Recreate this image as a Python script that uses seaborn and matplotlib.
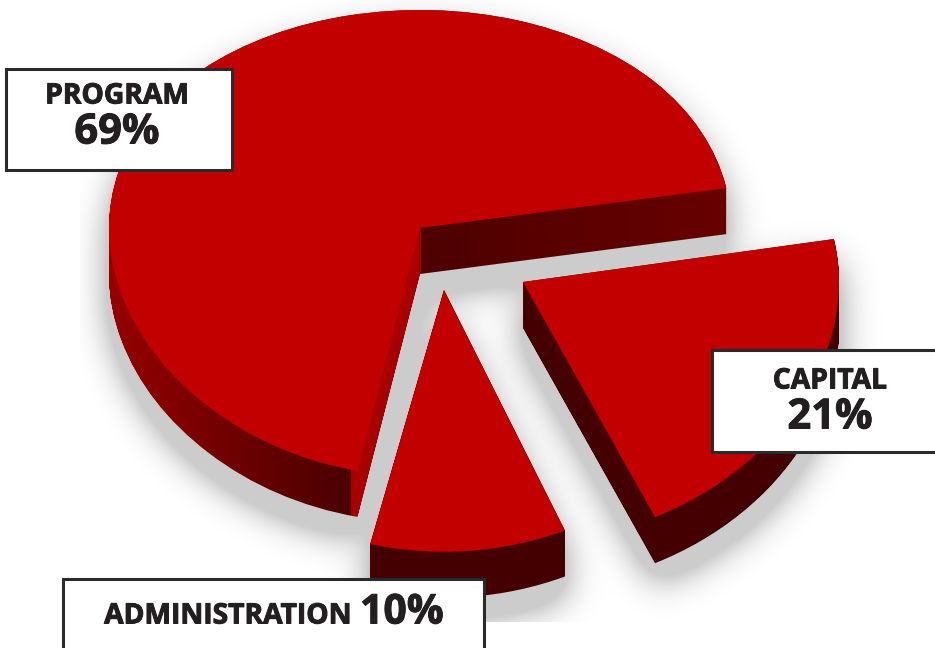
import numpy as np
import matplotlib
matplotlib.use("Agg")
import matplotlib.pyplot as plt
import matplotlib.patheffects as pe
import seaborn as sns
from matplotlib.patches import PathPatch, Rectangle
from matplotlib.path import Path
from matplotlib.transforms import Affine2D, IdentityTransform

# data, in the order the slices go round the pie
labels = ["PROGRAM", "ADMINISTRATION", "CAPITAL"]
values = [69, 10, 21]

W, H = 935, 648
start_angle = 10
nudges = [0, -1.9, 0.3]  # the source art isn't quite true to its angles
radii = [311, 316, 316]
top_color = "#C20000"
text_color = "#231F20"

# tilted pie plane: the front of the pie comes out a bit bigger than the back
a, k = 0.7465, 0.000209
apex = (420, 228)


def tilt(v):
    return a * v / (1 + k * v)


def untilt(s):
    return s / (a - k * s)


# slice apex in screen pixels
apexes = [(420, 228), (444, 290), (523, 282)]
depth = 46

sns.set_theme(style="white")
plt.rcParams["font.family"] = ["Open Sans", "DejaVu Sans"]

fig = plt.figure(figsize=(W / 100, H / 100), dpi=100, facecolor="white")
ax_back = fig.add_axes([0, 0, 1, 1], zorder=1)
ax = fig.add_axes([0, 0, 1, 1], zorder=2)
ax_front = fig.add_axes([0, 0, 1, 1], zorder=3)
for a_ in (ax_back, ax_front):
    a_.set_xlim(0, W)
    a_.set_ylim(H, 0)
    a_.axis("off")
ax.set_yscale("function", functions=(tilt, untilt))

# top faces, one pie call per slice so each one can sit at its own centre
angle = start_angle
wedges = []
for val, r, (px, py), nudge in zip(values, radii, apexes, nudges):
    centre = (px - apex[0], untilt(apex[1] - py))
    w, _ = ax.pie([val / 100], normalize=False, startangle=angle + nudge, radius=r,
                  center=centre, colors=[top_color], wedgeprops={"linewidth": 0})
    wedges.append(w[0])
    angle += val * 3.6

ax.set_aspect("auto")
ax.set_xlim(-apex[0], W - apex[0])
ax.set_ylim(untilt(apex[1] - H), untilt(apex[1]))
ax.axis("off")
ax.patch.set_alpha(0)

# side walls: every slice swept straight down the page
walls = []
for w in wedges:
    top = w.get_transform().transform_path(w.get_path())
    layers = [Affine2D().translate(0, -d).transform_path(top) for d in range(depth + 1)]
    walls.append(Path.make_compound_path(*layers))

# soft shadow from a blurred mask of the walls
fig_m = plt.figure(figsize=(W / 100, H / 100), dpi=100, facecolor="white")
for wall in walls:
    fig_m.add_artist(PathPatch(Affine2D().translate(0, -20).transform_path(wall),
                               transform=IdentityTransform(), fc="black", lw=0))
fig_m.canvas.draw()
mask = 1 - np.asarray(fig_m.canvas.buffer_rgba())[:, :, 0] / 255
plt.close(fig_m)
xk = np.arange(-60, 61)
kernel = np.exp(-xk ** 2 / (2 * 18.0 ** 2))
kernel /= kernel.sum()
mask = np.apply_along_axis(lambda c: np.convolve(c, kernel, mode="same"), 0, mask)
mask = np.apply_along_axis(lambda c: np.convolve(c, kernel, mode="same"), 1, mask)
mask = np.clip(mask * 2.3, 0, 1)
mask[622:, :] = 0
mask[:, :80] = 0
shadow = np.zeros((H, W, 4))
shadow[:, :, 3] = mask * 0.2
ax_back.imshow(shadow, extent=(0, W, H, 0), aspect="auto", zorder=1)

# wall colours running left to right across the page
x_px = np.arange(W)
stops = [
    ([108, 350, 351, 420, 421, 722], [150, 74, 168, 168, 78, 104]),
    ([370, 570], [68, 68]),
    ([520, 845], [68, 68]),
]
for wall, (xs, reds) in zip(walls, stops):
    red = np.interp(x_px, xs, reds) / 255
    grad = np.zeros((1, W, 3))
    grad[0, :, 0] = red
    im = ax_back.imshow(grad, extent=(0, W, H, 0), aspect="auto", zorder=2)
    im.set_clip_path(wall, IdentityTransform())

# label boxes
boxes = [(6, 69, 226, 101), (63, 579, 421, 90), (712, 350, 240, 102)]
for x, y, bw, bh in boxes:
    ax_front.add_patch(Rectangle((x, y), bw, bh, fc="white", ec="#2B2A2B", lw=2.2))

pct = [f"{v}%" for v in values]
heavy = [pe.withStroke(linewidth=0.7, foreground=text_color)]
text_rows = [
    (117, 96, labels[0], "center", 20.3),
    (117, 133, pct[0], "center", 30),
    (830, 381, labels[2], "center", 20.3),
    (830, 418, pct[2], "center", 30),
    (352, 616, labels[1], "right", 20.3),
    (360, 613, pct[1], "left", 29.5),
]
for x, y, s, ha, size in text_rows:
    ax_front.text(x, y, s, ha=ha, va="center", fontsize=size, fontweight="bold",
                  color=text_color, path_effects=heavy)

fig.savefig("out.png", dpi=100)
